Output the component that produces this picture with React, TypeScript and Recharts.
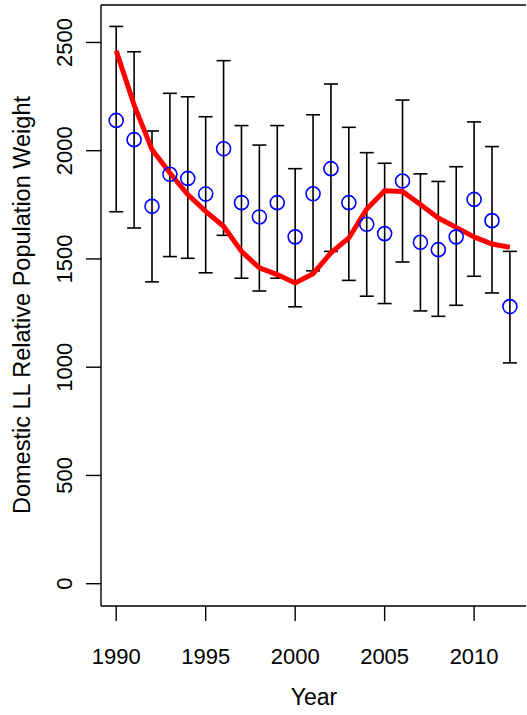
import React from 'react';
import {
  ComposedChart,
  Scatter,
  Line,
  XAxis,
  YAxis,
  ErrorBar,
  ReferenceLine,
} from 'recharts';

const years = [1990, 1991, 1992, 1993, 1994, 1995, 1996, 1997, 1998, 1999, 2000, 2001, 2002, 2003, 2004, 2005, 2006, 2007, 2008, 2009, 2010, 2011, 2012];
const estimate = [2140, 2051, 1743, 1891, 1872, 1800, 2009, 1760, 1694, 1760, 1602, 1801, 1917, 1760, 1660, 1617, 1860, 1577, 1543, 1602, 1775, 1677, 1280];
const upper = [2574, 2457, 2091, 2265, 2249, 2157, 2416, 2116, 2026, 2116, 1917, 2166, 2308, 2108, 1991, 1942, 2234, 1893, 1858, 1926, 2133, 2019, 1535];
const lower = [1718, 1643, 1394, 1511, 1503, 1436, 1609, 1411, 1352, 1411, 1279, 1445, 1535, 1401, 1328, 1294, 1486, 1260, 1235, 1286, 1420, 1343, 1020];
const smooth = [2462, 2212, 2005, 1897, 1797, 1720, 1651, 1535, 1459, 1428, 1389, 1432, 1528, 1597, 1731, 1815, 1812, 1751, 1689, 1646, 1602, 1569, 1554];

const xTicks = [1990, 1995, 2000, 2005, 2010];
const yTicks = [0, 500, 1000, 1500, 2000, 2500];
const xDomain = [1989.15, 2012.9];
const yDomain = [-103, 2673];

const FONT = '"Liberation Sans", Arial, Helvetica, sans-serif';

const data = years.map((year, i) => ({
  year,
  est: estimate[i],
  err: [estimate[i] - lower[i], upper[i] - estimate[i]],
  fit: smooth[i],
}));

const XTick = (props: any) => {
  const { x, y, payload } = props;
  return (
    <text x={x} y={y + 41} textAnchor="middle" fontFamily={FONT} fontSize={22} fill="#000">
      {payload.value}
    </text>
  );
};

const YTick = (props: any) => {
  const { x, y, payload } = props;
  const bx = x - 12;
  return (
    <text x={bx} y={y} transform={`rotate(-90, ${bx}, ${y})`} textAnchor="middle" fontFamily={FONT} fontSize={22} fill="#000">
      {payload.value}
    </text>
  );
};

const OpenCircle = (props: any) => {
  const { cx, cy } = props;
  return <circle cx={cx} cy={cy} r={7} fill="none" stroke="#0000ff" strokeWidth={1.6} />;
};

export default function App() {
  return (
    <div style={{ position: 'absolute', left: 0, top: 0, background: '#fff' }}>
      <ComposedChart width={527} height={715} data={data} margin={{ top: 5, right: 1, bottom: 0, left: 0 }}>
        <XAxis
          dataKey="year"
          type="number"
          domain={xDomain}
          ticks={xTicks}
          allowDataOverflow
          height={109}
          tickSize={15}
          tick={<XTick />}
          axisLine={{ stroke: '#000', strokeWidth: 1.4 }}
          tickLine={{ stroke: '#000', strokeWidth: 1.4 }}
          label={{
            content: () => (
              <text x={314} y={705} textAnchor="middle" fontFamily={FONT} fontSize={23} fill="#000">
                Year
              </text>
            ),
          }}
        />
        <YAxis
          type="number"
          domain={yDomain}
          ticks={yTicks}
          allowDataOverflow
          width={101}
          tickSize={15}
          tick={<YTick />}
          axisLine={{ stroke: '#000', strokeWidth: 1.4 }}
          tickLine={{ stroke: '#000', strokeWidth: 1.4 }}
          label={{
            content: () => (
              <text x={30} y={305} transform="rotate(-90, 30, 305)" textAnchor="middle" fontFamily={FONT} fontSize={23.5} fill="#000">
                Domestic LL Relative Population Weight
              </text>
            ),
          }}
        />
        <ReferenceLine y={yDomain[1]} stroke="#000" strokeWidth={1.4} ifOverflow="visible" />
        <Scatter dataKey="est" shape={<OpenCircle />} isAnimationActive={false}>
          <ErrorBar dataKey="err" direction="y" width={7} stroke="#000" strokeWidth={1.6} isAnimationActive={false} />
        </Scatter>
        <Line
          type="linear"
          dataKey="fit"
          stroke="#ff0000"
          strokeWidth={5}
          dot={false}
          activeDot={false}
          isAnimationActive={false}
        />
      </ComposedChart>
    </div>
  );
}
